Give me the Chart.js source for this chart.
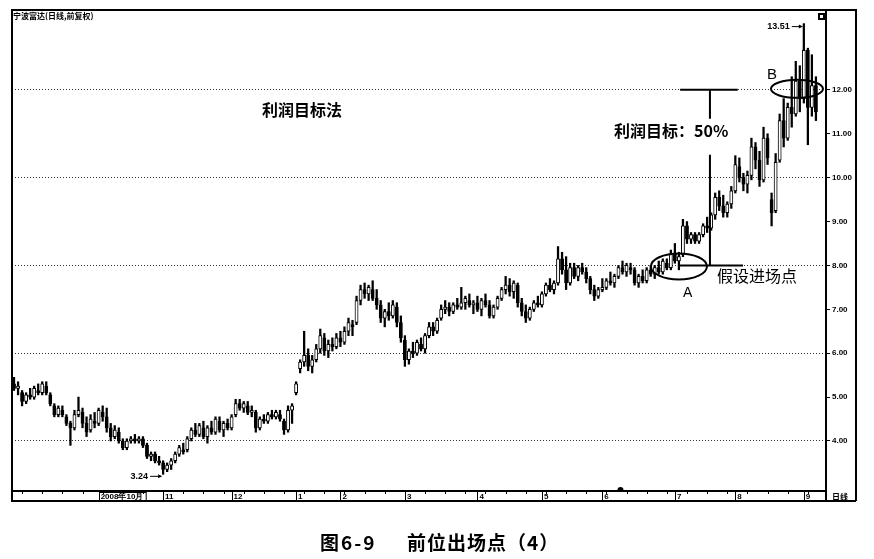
<!DOCTYPE html>
<html><head><meta charset="utf-8">
<script src="https://cdn.jsdelivr.net/npm/chart.js@4.4.1/dist/chart.umd.min.js"></script>
<style>html,body{margin:0;padding:0;background:#fff;}#wrap{width:874px;height:559px;position:relative;}</style>
</head><body><div id="wrap"><canvas id="c" width="874" height="559"></canvas></div>
<script>
// ---- data ----
const openP = [5.30,5.20,5.10,4.90,5.05,5.00,5.15,5.10,5.25,5.05,4.80,4.60,4.70,4.55,4.40,4.30,4.60,4.65,4.40,4.25,
4.45,4.40,4.65,4.55,4.30,4.10,4.20,4.00,3.85,4.00,4.05,4.00,4.05,3.90,3.65,3.70,3.55,3.50,3.35,3.45,
3.55,3.70,3.80,3.80,4.05,4.25,4.15,4.30,4.10,4.30,4.20,4.45,4.25,4.40,4.30,4.60,4.85,4.75,4.80,4.65,
4.65,4.30,4.50,4.45,4.60,4.55,4.60,4.45,4.25,4.70,5.10,5.65,5.80,5.95,5.70,5.85,6.10,6.35,6.05,6.20,
6.15,6.35,6.25,6.50,6.65,6.70,7.20,7.45,7.35,7.45,7.25,7.10,6.80,6.95,6.85,7.05,6.70,6.30,5.85,6.05,
6.00,6.20,6.10,6.40,6.60,6.50,6.80,7.00,7.05,6.95,7.10,7.05,7.15,7.20,7.10,7.15,7.00,7.20,7.10,6.85,
7.05,7.25,7.45,7.55,7.40,7.55,7.15,6.95,6.80,7.00,7.15,7.10,7.35,7.55,7.45,7.60,8.15,7.90,7.60,7.95,
7.75,7.95,7.85,7.70,7.45,7.30,7.45,7.50,7.65,7.60,7.75,7.95,7.85,7.95,7.90,7.60,7.75,7.65,7.90,7.80,
7.95,7.85,8.05,7.95,8.25,8.10,8.25,8.90,8.60,8.70,8.55,8.70,8.90,8.85,9.15,9.55,9.35,9.20,9.40,9.70,
10.25,10.00,9.85,10.05,10.70,10.40,9.95,10.90,9.50,9.25,10.40,11.30,10.90,11.60,11.45,12.20,11.80,12.90,11.60,12.10];
const highP = [5.45,5.35,5.15,5.10,5.20,5.25,5.30,5.35,5.35,5.10,4.85,4.80,4.80,4.60,4.45,4.70,5.00,4.75,4.55,4.60,
4.65,4.75,4.80,4.75,4.40,4.35,4.30,4.05,4.05,4.10,4.15,4.10,4.10,3.95,3.75,3.75,3.65,3.55,3.50,3.60,
3.75,3.90,3.95,4.10,4.30,4.40,4.40,4.45,4.35,4.45,4.55,4.55,4.45,4.50,4.60,4.95,4.95,4.90,4.90,4.80,
4.70,4.55,4.60,4.65,4.70,4.70,4.70,4.50,4.80,4.85,5.35,5.85,6.50,6.10,5.95,6.20,6.55,6.45,6.30,6.35,
6.45,6.50,6.60,6.80,6.75,7.30,7.55,7.60,7.55,7.65,7.45,7.20,7.00,7.15,7.20,7.15,6.85,6.40,6.10,6.25,
6.30,6.35,6.45,6.70,6.70,6.80,7.10,7.20,7.15,7.15,7.25,7.50,7.30,7.35,7.20,7.30,7.25,7.35,7.20,7.10,
7.30,7.50,7.75,7.70,7.65,7.60,7.25,7.10,7.05,7.20,7.30,7.40,7.60,7.70,7.65,8.43,8.30,8.20,8.05,8.05,
8.00,8.05,7.95,7.75,7.55,7.50,7.70,7.70,7.85,7.80,8.00,8.10,8.05,8.05,7.95,7.80,7.90,7.95,8.00,8.00,
8.10,8.15,8.15,8.35,8.50,8.30,9.05,9.00,8.75,8.75,8.75,8.95,9.10,9.20,9.65,9.70,9.60,9.45,9.80,10.50,
10.45,10.10,10.15,10.90,10.80,10.60,11.15,11.00,9.65,10.55,11.45,11.80,11.70,12.30,12.65,12.55,13.51,12.95,12.80,12.30];
const lowP = [5.15,5.05,4.80,4.85,4.95,4.95,5.05,5.05,5.05,4.80,4.55,4.55,4.55,4.35,3.90,4.25,4.55,4.30,4.10,4.20,
4.30,4.35,4.45,4.20,4.00,4.05,3.95,3.80,3.80,3.95,3.95,3.95,3.85,3.60,3.55,3.50,3.45,3.24,3.30,3.35,
3.50,3.65,3.70,3.75,4.00,4.10,4.10,4.05,3.95,4.15,4.15,4.20,4.10,4.25,4.25,4.55,4.70,4.65,4.60,4.55,
4.20,4.25,4.40,4.40,4.50,4.50,4.45,4.15,4.20,4.40,5.05,5.55,5.70,5.60,5.55,5.80,6.00,5.95,5.90,6.05,
6.10,6.15,6.20,6.40,6.40,6.65,7.10,7.25,7.20,7.20,7.00,6.70,6.60,6.75,6.80,6.60,6.25,5.70,5.75,5.90,
5.95,6.05,6.00,6.35,6.40,6.45,6.75,6.90,6.85,6.90,7.00,7.00,7.00,7.05,6.90,6.95,6.85,7.05,6.80,6.80,
7.00,7.20,7.35,7.30,7.25,7.05,6.85,6.70,6.75,6.95,7.05,7.05,7.30,7.40,7.35,7.55,7.80,7.45,7.55,7.70,
7.65,7.80,7.60,7.35,7.20,7.25,7.40,7.45,7.55,7.50,7.70,7.80,7.75,7.80,7.55,7.50,7.60,7.60,7.75,7.70,
7.80,7.80,7.90,7.90,8.05,7.90,8.20,8.50,8.50,8.50,8.50,8.65,8.75,8.80,9.05,9.25,9.10,9.10,9.30,9.65,
9.90,9.70,9.65,9.95,10.20,9.80,9.90,10.30,8.90,9.20,10.35,10.70,10.85,11.15,11.40,11.50,11.70,10.75,11.40,11.30];
const closeP = [5.20,5.25,4.90,5.05,5.00,5.20,5.10,5.30,5.10,4.85,4.60,4.75,4.60,4.40,4.30,4.60,4.70,4.40,4.20,4.50,
4.40,4.70,4.55,4.30,4.10,4.25,4.00,3.85,4.00,4.05,4.00,4.05,3.90,3.65,3.70,3.55,3.50,3.35,3.45,3.55,
3.70,3.85,3.75,4.05,4.25,4.15,4.35,4.10,4.30,4.20,4.50,4.25,4.40,4.30,4.55,4.85,4.75,4.85,4.65,4.70,
4.30,4.50,4.45,4.60,4.55,4.65,4.50,4.25,4.70,4.80,5.30,5.80,5.95,5.70,5.85,6.10,6.40,6.05,6.20,6.15,
6.35,6.25,6.50,6.70,6.60,7.20,7.45,7.35,7.50,7.25,7.10,6.80,6.95,6.85,7.10,6.70,6.35,5.85,6.05,6.00,
6.25,6.10,6.40,6.60,6.50,6.75,7.00,7.05,6.95,7.10,7.05,7.15,7.25,7.10,7.15,7.00,7.20,7.10,6.85,7.05,
7.25,7.45,7.55,7.40,7.60,7.15,6.95,6.80,7.00,7.15,7.10,7.35,7.55,7.45,7.60,8.15,7.90,7.60,7.95,7.75,
7.95,7.85,7.70,7.45,7.30,7.45,7.50,7.65,7.60,7.75,7.95,7.85,8.00,7.90,7.60,7.75,7.65,7.90,7.80,7.95,
7.85,8.10,7.95,8.25,8.10,8.20,8.90,8.60,8.70,8.55,8.70,8.90,8.85,9.15,9.55,9.35,9.20,9.40,9.70,10.30,
10.00,9.85,10.05,10.70,10.40,9.95,10.90,10.45,9.20,10.35,11.30,10.90,11.60,11.45,12.20,11.80,12.90,11.60,12.10,11.50];
const dayCount = 202; // 200 trading days plus two empty slots at the right edge
const monthTickIndex = [21, 37, 54, 70, 81, 97, 115, 131, 146, 164, 179, 196];
const monthTickLabels = ['2008年10月', '11', '12', '1', '2', '3', '4', '5', '6', '7', '8', '9'];
const priceTicks = [4, 5, 6, 7, 8, 9, 10, 11, 12];
const gridLevels = [4, 6, 8, 10, 12];
const lowIndex = 37, lowValue = 3.24;
const highIndex = 196, highValue = 13.51;
const entryIndex = 165, entryPrice = 8.0, targetPrice = 12.0, targetIndex = 194.3;

const categories = Array.from({length: dayCount}, (_, i) => String(i));
const wicks = lowP.map((l, i) => [l, highP[i]]);
const bodies = openP.map((o, i) => [Math.min(o, closeP[i]), Math.max(o, closeP[i])]);
const bodyFill = openP.map((o, i) => closeP[i] >= o ? '#ffffff' : '#000000');

const deco = {
  id: 'deco',
  beforeDraw(chart) {
    const ctx = chart.ctx;
    ctx.save(); ctx.fillStyle = '#fff'; ctx.fillRect(0, 0, chart.width, chart.height); ctx.restore();
  },
  afterDraw(chart) {
    const {ctx, chartArea: ca, scales: {x, y}} = chart;
    const px = i => x.getPixelForValue(i);
    const py = v => y.getPixelForValue(v);
    ctx.save();
    // frame
    ctx.strokeStyle = '#000'; ctx.lineWidth = 2;
    ctx.strokeRect(ca.left, ca.top, ca.right - ca.left, ca.bottom - ca.top);
    const stripB = ca.bottom + 10, outerR = ca.right + 30;
    ctx.beginPath();
    ctx.moveTo(ca.left, ca.bottom); ctx.lineTo(ca.left, stripB); ctx.lineTo(outerR, stripB);
    ctx.moveTo(ca.right, ca.top); ctx.lineTo(outerR, ca.top); ctx.lineTo(outerR, stripB);
    ctx.moveTo(ca.right, ca.bottom); ctx.lineTo(ca.right, stripB);
    ctx.stroke();
    // small weekly ticks on strip
    ctx.lineWidth = 1;
    ctx.beginPath();
    for (let i = 2; i < dayCount - 2; i += 5) { const xx = Math.round(px(i)) + 0.5; ctx.moveTo(xx, ca.bottom); ctx.lineTo(xx, ca.bottom + 3); }
    ctx.stroke();
    // month labels
    ctx.fillStyle = '#000'; ctx.font = 'bold 8px "Liberation Sans", Arial, sans-serif'; ctx.textBaseline = 'middle'; ctx.textAlign = 'left';
    monthTickIndex.forEach((idx, k) => {
      const xx = px(idx);
      ctx.beginPath(); ctx.moveTo(Math.round(xx) + 0.5, ca.bottom); ctx.lineTo(Math.round(xx) + 0.5, stripB); ctx.stroke();
      ctx.fillText(monthTickLabels[k], xx + 2, ca.bottom + 5.5);
      if (k === 0) { const w = ctx.measureText(monthTickLabels[k]).width; ctx.strokeRect(Math.round(xx) + 0.5, ca.bottom + 1.5, w + 4, 8); }
    });
    ctx.font = 'bold 8px "Noto Sans CJK SC", sans-serif';
    ctx.fillText('日线', ca.right + 6, ca.bottom + 5.5);
    // top-left title
    ctx.fillText('宁波富达(日线,前复权)', ca.left + 1, ca.top + 6);
    // small square marker top right
    ctx.fillRect(ca.right - 8, ca.top + 3, 7, 7); ctx.fillStyle = '#fff'; ctx.fillRect(ca.right - 6, ca.top + 5, 3, 3); ctx.fillStyle = '#000';
    // small dome marker on bottom
    ctx.beginPath(); ctx.arc(px(150.5), ca.bottom - 1, 3, Math.PI, 0); ctx.fill();
    // max / min labels
    ctx.font = 'bold 9px "Liberation Sans", Arial, sans-serif';
    const hx = px(highIndex), hy = py(highValue) + 3;
    ctx.textAlign = 'right'; ctx.fillText(highValue.toFixed(2), hx - 14, hy);
    ctx.beginPath(); ctx.moveTo(hx - 12, hy); ctx.lineTo(hx - 2, hy); ctx.stroke();
    ctx.beginPath(); ctx.moveTo(hx - 1, hy); ctx.lineTo(hx - 5, hy - 2); ctx.lineTo(hx - 5, hy + 2); ctx.closePath(); ctx.fill();
    const lx = px(lowIndex), ly = py(lowValue) + 2;
    ctx.fillText(lowValue.toFixed(2), lx - 15, ly);
    ctx.beginPath(); ctx.moveTo(lx - 13, ly); ctx.lineTo(lx - 2, ly); ctx.stroke();
    ctx.beginPath(); ctx.moveTo(lx - 1, ly); ctx.lineTo(lx - 5, ly - 2); ctx.lineTo(lx - 5, ly + 2); ctx.closePath(); ctx.fill();
    // profit-target construction lines
    const vx = px(172.7), yT = py(targetPrice), yE = py(entryPrice);
    ctx.lineWidth = 2;
    ctx.beginPath();
    ctx.moveTo(px(165.3), yT); ctx.lineTo(px(179.6), yT);
    ctx.moveTo(vx, yT); ctx.lineTo(vx, yT + 29);
    ctx.moveTo(vx, yT + 65); ctx.lineTo(vx, yE);
    ctx.moveTo(px(164.8), yE); ctx.lineTo(px(180.9), yE);
    ctx.stroke();
    // ellipses
    ctx.beginPath(); ctx.ellipse(px(entryIndex), yE + 1, 28, 13, 0, 0, Math.PI * 2); ctx.stroke();
    ctx.beginPath(); ctx.ellipse(px(targetIndex), yT - 1, 26, 9, 0, 0, Math.PI * 2); ctx.stroke();
    // annotation text
    ctx.textAlign = 'left'; ctx.textBaseline = 'middle';
    ctx.font = 'bold 16px "Noto Sans CJK SC", sans-serif';
    ctx.fillText('利润目标法', 262, 110);
    ctx.fillText('利润目标：50%', 614, 131);
    ctx.font = '16px "Noto Sans CJK SC", sans-serif';
    ctx.fillText('假设进场点', 717, 276);
    ctx.font = '14px "Liberation Sans", Arial, sans-serif';
    ctx.fillText('A', 683, 293);
    ctx.font = '15px "Liberation Sans", Arial, sans-serif';
    ctx.fillText('B', 767, 75);
    // caption
    ctx.font = 'bold 19px "Noto Sans CJK SC", sans-serif';
    ctx.fillText('图', 320, 543);
    ctx.letterSpacing = '2px';
    ctx.fillText('6-9', 341, 543);
    ctx.letterSpacing = '1px';
    ctx.fillText('前位出场点（4）', 407, 543);
    ctx.restore();
  }
};

new Chart(document.getElementById('c'), {
  type: 'bar',
  data: {
    labels: categories,
    datasets: [
      { label: 'wick', data: wicks, backgroundColor: '#000', borderWidth: 0, barThickness: 1.6, grouped: false, order: 2, minBarLength: 1 },
      { label: 'body', data: bodies, backgroundColor: bodyFill, borderColor: '#000', borderWidth: 1, borderSkipped: false, barThickness: 3.2, grouped: false, order: 1, minBarLength: 1.5 }
    ]
  },
  options: {
    responsive: false, animation: false,
    layout: { padding: { left: 12, top: 10, right: 18, bottom: 68 } },
    plugins: { legend: { display: false }, tooltip: { enabled: false } },
    scales: {
      x: { display: false, offset: true },
      y: {
        position: 'right', min: 2.86, max: 13.82,
        afterBuildTicks: s => { s.ticks = priceTicks.map(v => ({ value: v })); },
        afterFit: s => { s.width = 30; },
        ticks: { color: '#000', padding: 2, font: { family: '"Liberation Sans", Arial', size: 8, weight: 'bold' }, callback: v => Number(v).toFixed(2) },
        grid: {
          color: c => gridLevels.includes(c.tick && c.tick.value) ? '#333' : 'rgba(0,0,0,0)',
          tickColor: '#000', tickLength: 4, tickBorderDash: [], lineWidth: 1
        },
        border: { display: false, dash: [1, 2] }
      }
    }
  },
  plugins: [deco]
});
</script></body></html>
